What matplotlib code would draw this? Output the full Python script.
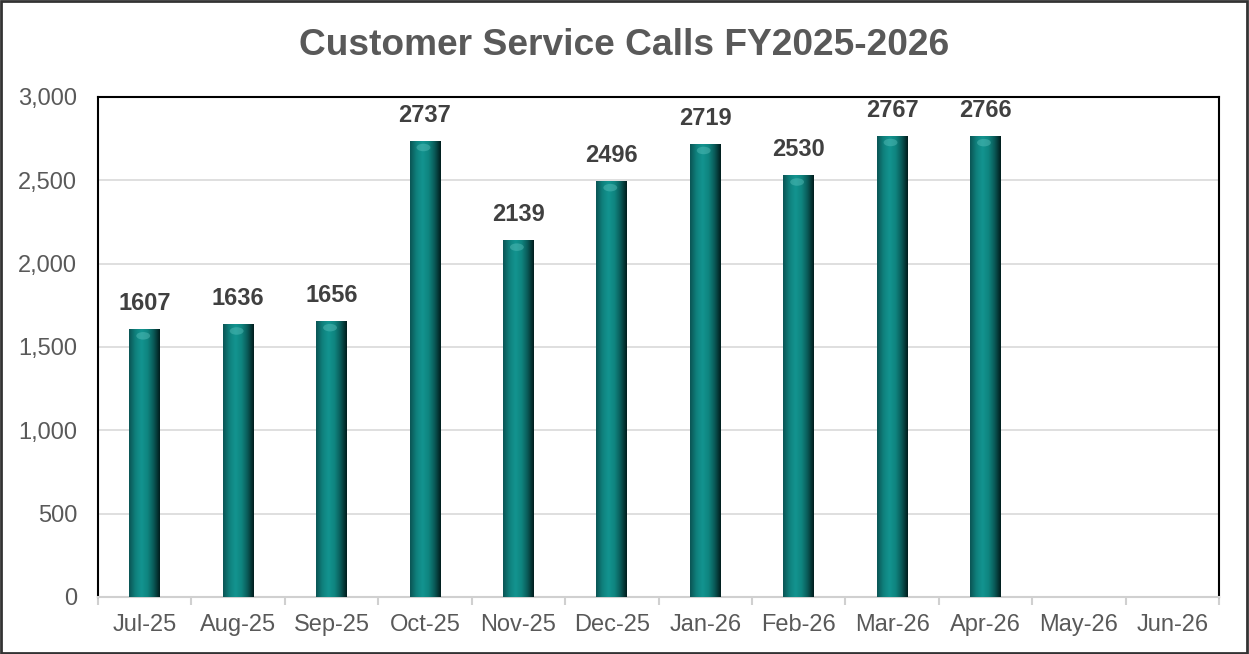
import numpy as np
import matplotlib
matplotlib.use('Agg')
import matplotlib.pyplot as plt
from matplotlib.colors import LinearSegmentedColormap
from matplotlib.patches import Rectangle, Ellipse

months = ['Jul-25', 'Aug-25', 'Sep-25', 'Oct-25', 'Nov-25', 'Dec-25',
          'Jan-26', 'Feb-26', 'Mar-26', 'Apr-26', 'May-26', 'Jun-26']
calls = [1607, 1636, 1656, 2737, 2139, 2496, 2719, 2530, 2767, 2766, None, None]
yticks = [0, 500, 1000, 1500, 2000, 2500, 3000]

plt.rcParams['font.family'] = ['Liberation Sans', 'DejaVu Sans']

fig = plt.figure(figsize=(12.49, 6.54), dpi=100)
ax = fig.add_axes([0.0785, 0.0872, 0.8975, 0.7645])

# cylinder-like horizontal shading for the bars
cyl = LinearSegmentedColormap.from_list(
    'cyl', ['#0b5555', '#0f807c', '#139490', '#0f8580', '#0a5a58', '#011d1d'])
grad = np.linspace(0, 1, 64).reshape(1, -1)

width = 0.33
x = np.arange(len(months))
for i, v in enumerate(calls):
    if v is None:
        continue
    left = x[i] - width / 2
    im = ax.imshow(grad, cmap=cyl, aspect='auto', interpolation='bicubic',
                   extent=[left, left + width, 0, v], zorder=3)
    clip = Rectangle((left, 0), width, v, transform=ax.transData)
    im.set_clip_path(clip)
    # soft highlight near the top of each bar
    ax.add_patch(Ellipse((x[i] - width * 0.05, v - 40), width * 0.45, 45,
                         facecolor='#6fd0ca', alpha=0.35, lw=0, zorder=4))
    ax.text(x[i], v + 85, str(v), ha='center', va='bottom', fontsize=17,
            fontweight='bold', color='#404040', zorder=5)

ax.set_xlim(-0.5, len(months) - 0.5)
ax.set_ylim(0, 3000)
ax.set_yticks(yticks)
ax.set_yticklabels([f'{t:,}' for t in yticks])
ax.set_xticks(x)
ax.set_xticklabels(months)
ax.set_xticks(np.arange(-0.5, len(months), 1), minor=True)

ax.grid(axis='y', color='#d9d9d9', lw=1.2, zorder=0)
ax.set_axisbelow(True)
for s in ['left', 'top', 'right']:
    ax.spines[s].set_color('black')
    ax.spines[s].set_linewidth(1.5)
ax.spines['bottom'].set_color('#d0d0d0')
ax.spines['bottom'].set_linewidth(1.5)
ax.tick_params(axis='x', which='major', length=0, pad=12, labelsize=17,
               labelcolor='#595959')
ax.tick_params(axis='x', which='minor', length=6, width=1.5, color='#d0d0d0')
ax.tick_params(axis='y', length=0, pad=15, labelsize=17, labelcolor='#595959')

fig.text(0.5, 0.93, 'Customer Service Calls FY2025-2026', ha='center',
         va='center', fontsize=26.7, fontweight='bold', color='#595959')

fig.patches.append(Rectangle((0.001, 0.002), 0.997, 0.996,
                             transform=fig.transFigure, fill=False,
                             edgecolor='#333333', lw=2))

fig.savefig('out.png', dpi=100)
